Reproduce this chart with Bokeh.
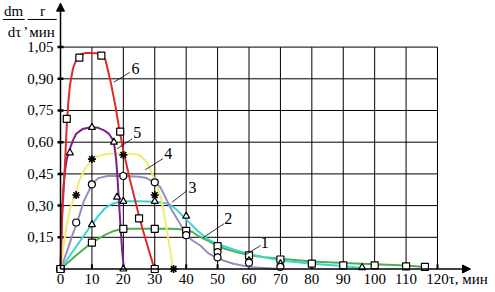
from bokeh.plotting import figure
from bokeh.models import Range1d, Arrow, NormalHead, Label
from bokeh.core.properties import value
from bokeh.embed import file_html
from bokeh.resources import INLINE

# ---------------- data ----------------
x_ticks = [0, 10, 20, 30, 40, 50, 60, 70, 80, 90, 100, 110, 120]
x_tick_labels = [str(t) for t in x_ticks]
y_ticks = [0.15, 0.30, 0.45, 0.60, 0.75, 0.90, 1.05]
y_tick_labels = ["0,15", "0,30", "0,45", "0,60", "0,75", "0,90", "1,05"]

# curve 6 (red)
x6 = [0, 0.5, 1, 1.5, 2, 2.5, 3, 4, 5, 6.4, 8, 10, 12, 13.3, 14.3, 15.9, 17.5, 18.6, 20.2, 22, 24, 25, 26, 28, 29.7, 30]
y6 = [0, 0.24, 0.38, 0.52, 0.68, 0.79, 0.87, 0.95, 0.99, 1.015, 1.022, 1.022, 1.02, 1.01, 0.99, 0.89, 0.77, 0.67, 0.545, 0.43, 0.31, 0.25, 0.195, 0.095, 0.01, 0]
# curve 5 (purple)
x5 = [0, 0.3, 0.6, 1, 1.5, 2, 3, 4, 5, 7, 10, 12, 14, 15.5, 16.5, 17.2, 17.7, 18.1, 18.6, 19.2, 19.6, 20.2]
y5 = [0, 0.17, 0.30, 0.40, 0.47, 0.52, 0.57, 0.61, 0.64, 0.662, 0.672, 0.668, 0.655, 0.638, 0.615, 0.58, 0.52, 0.44, 0.32, 0.18, 0.09, 0]
# curve 4 (yellow)
x4 = [0, 1, 1.6, 2, 3, 4.8, 6, 8, 10, 12, 15, 20, 25, 27, 28, 29, 30, 31, 32, 33, 34, 35, 35.8]
y4 = [0, 0.11, 0.17, 0.21, 0.28, 0.36, 0.42, 0.48, 0.515, 0.535, 0.545, 0.548, 0.54, 0.515, 0.49, 0.46, 0.42, 0.38, 0.335, 0.26, 0.17, 0.08, 0]
# curve 3 (lavender)
x3 = [0, 2, 4, 5.3, 7.4, 10, 12, 15, 20, 25, 27, 30, 31.8, 35, 38, 40, 42, 44.6, 47, 50, 55, 60, 65, 70]
y3 = [0, 0.08, 0.17, 0.22, 0.32, 0.40, 0.43, 0.44, 0.44, 0.437, 0.432, 0.41, 0.387, 0.29, 0.215, 0.16, 0.135, 0.11, 0.075, 0.05, 0.025, 0.01, 0.005, 0]
# curve 2 (cyan)
x2 = [0, 4, 8, 10, 12, 14, 16, 18, 20, 25, 30, 34.5, 37, 40.3, 43.5, 46.7, 50, 53, 56, 60.5, 65, 70, 80, 90, 96]
y2 = [0, 0.085, 0.17, 0.21, 0.25, 0.285, 0.305, 0.315, 0.32, 0.32, 0.318, 0.309, 0.28, 0.23, 0.182, 0.143, 0.118, 0.103, 0.088, 0.07, 0.055, 0.04, 0.025, 0.014, 0.005]
# curve 1 (green)
x1 = [0, 5, 10, 14, 17, 20, 25, 30, 35, 38, 40, 42, 44, 46.7, 50, 52, 56, 60, 65, 70, 80, 90, 100, 110, 116]
y1 = [0, 0.065, 0.125, 0.16, 0.18, 0.19, 0.19, 0.19, 0.19, 0.188, 0.185, 0.175, 0.155, 0.135, 0.11, 0.097, 0.08, 0.066, 0.056, 0.048, 0.036, 0.028, 0.022, 0.016, 0.01]

# experimental points
m6x = [0, 2, 6, 13, 19, 25, 30]
m6y = [0, 0.71, 1.0, 1.01, 0.65, 0.24, 0]
m5x = [0, 3, 10, 17, 18, 20]
m5y = [0, 0.55, 0.67, 0.60, 0.34, 0]
m4x = [0, 5, 10, 20, 30, 36]
m4y = [0, 0.35, 0.52, 0.54, 0.35, 0]
m3x = [0, 5, 10, 20, 30, 40, 50, 50, 60, 70]
m3y = [0, 0.22, 0.40, 0.44, 0.41, 0.16, 0.08, 0.055, 0.03, 0.01]
m2x = [0, 10, 20, 30, 40, 60, 70, 96]
m2y = [0, 0.21, 0.32, 0.32, 0.25, 0.04, 0.025, 0.007]
m1x = [0, 10, 20, 30, 40, 50, 60, 70, 80, 90, 100, 110, 116]
m1y = [0, 0.125, 0.19, 0.19, 0.18, 0.108, 0.064, 0.045, 0.025, 0.017, 0.017, 0.012, 0.01]

curve_names = ["1", "2", "3", "4", "5", "6"]

# ---------------- figure ----------------
SERIF = "Liberation Serif"
X_MAX, Y_MAX = 120, 1.05
p = figure(width=495, height=292, x_range=Range1d(-19.10, 138.46), y_range=Range1d(-0.1112, 1.2705),
           output_backend="svg", toolbar_location=None,
           x_axis_location=None, y_axis_location=None,
           min_border=0, min_border_left=0, min_border_right=0, min_border_top=0, min_border_bottom=0)
p.outline_line_color = None
p.xgrid.visible = False
p.ygrid.visible = False
p.background_fill_color = "white"

# grid
p.segment(x0=x_ticks[1:], y0=0, x1=x_ticks[1:], y1=Y_MAX, line_color="black", line_width=1)
p.segment(x0=0, y0=y_ticks, x1=X_MAX, y1=y_ticks, line_color="black", line_width=1)

# axes lines with arrows
p.add_layout(Arrow(end=NormalHead(size=8, fill_color="black", line_color="black", line_width=1),
                   x_start=0, y_start=0, x_end=0, y_end=1.258, line_width=1.5, line_color="black"))
p.add_layout(Arrow(end=NormalHead(size=8, fill_color="black", line_color="black", line_width=1),
                   x_start=0, y_start=0, x_end=130.5, y_end=0, line_width=1.5, line_color="black"))

# ticks
p.segment(x0=-0.95, y0=y_ticks, x1=0.95, y1=y_ticks, line_color="black", line_width=2.5)
p.segment(x0=x_ticks, y0=0, x1=x_ticks, y1=0.022, line_color="black", line_width=2)

# tick labels
p.text(x=-2.2, y=y_ticks, text=y_tick_labels, text_align="right", text_baseline="middle",
       text_font=value(SERIF), text_font_size="15px", text_color="black")
p.text(x=x_ticks, y=-0.047, text=x_tick_labels, text_align="center", text_baseline="middle",
       text_font=value(SERIF), text_font_size="15px", text_color="black")

# curves
curves = [(x1, y1, "#4caf50"), (x2, y2, "#3dd3d3"), (x3, y3, "#9a8cc2"),
          (x4, y4, "#f0ec6c"), (x5, y5, "#7b1f8c"), (x6, y6, "#e02a2a")]
for xs, ys, c in curves:
    p.line(xs, ys, line_color=c, line_width=2)

# markers
mk = dict(size=7, line_color="black", fill_color="white", line_width=1.2)
p.scatter(m1x, m1y, marker="square", **mk)
p.scatter(m2x, m2y, marker="triangle", **mk)
p.scatter(m3x, m3y, marker="circle", **mk)
p.scatter(m4x, m4y, marker="asterisk", size=8, line_color="black", line_width=1.6)
p.scatter(m5x, m5y, marker="triangle", **mk)
p.scatter(m6x, m6y, marker="square", **mk)

# curve labels with leader lines
leaders = [((59.0, 0.068), (63.7, 0.111), (65.0, 0.125)),
           ((45.6, 0.150), (52.0, 0.214), (53.4, 0.238)),
           ((35.5, 0.316), (40.3, 0.371), (42.0, 0.388)),
           ((27.0, 0.470), (32.6, 0.522), (34.3, 0.545)),
           ((18.0, 0.569), (22.8, 0.616), (24.4, 0.647)),
           ((17.0, 0.884), (22.0, 0.930), (23.9, 0.947))]
for name, (a, b, t) in zip(curve_names, leaders):
    p.segment(x0=[a[0]], y0=[a[1]], x1=[b[0]], y1=[b[1]], line_color="black", line_width=0.8)
    p.add_layout(Label(x=t[0], y=t[1], text=name, text_align="center", text_baseline="middle",
                       text_font=SERIF, text_font_size="16px", text_color="black"))

# axis titles
def lab(x, y, t, align="center"):
    p.add_layout(Label(x=x, y=y, text=t, text_align=align, text_baseline="middle",
                       text_font=SERIF, text_font_size="15px", text_color="black"))

lab(123.6, -0.047, "τ, мин", "left")
lab(-14.9, 1.222, "dm")
lab(-14.6, 1.122, "dτ")
lab(-5.7, 1.222, "r")
lab(-5.9, 1.122, "мин")
lab(-11.0, 1.16, ",")
p.segment(x0=[-18.3, -10.5], y0=1.1806, x1=[-11.4, -1.2], y1=1.1806, line_color="black", line_width=1)

open("out.html", "w").write(file_html(p, INLINE))
